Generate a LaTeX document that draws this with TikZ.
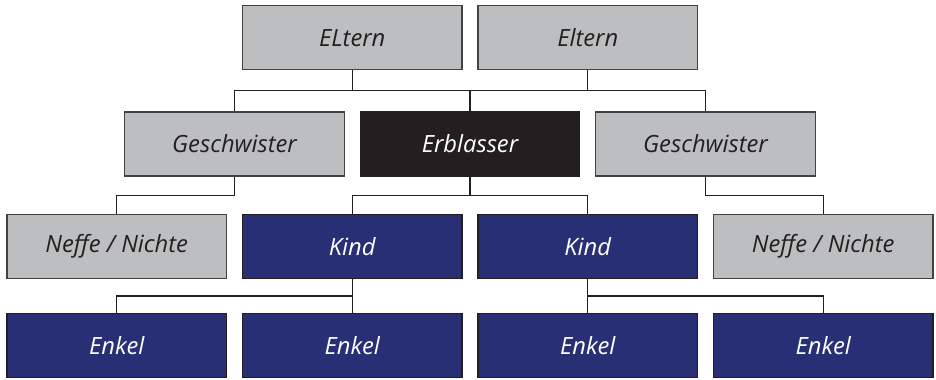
\documentclass[tikz,border=0pt]{standalone}
\usepackage{fontspec}
\setmainfont{Open Sans}
\usepackage{tikz}
\usetikzlibrary{positioning,calc}
\definecolor{kgrey}{RGB}{188,190,192}
\definecolor{kblack}{RGB}{35,31,32}
\definecolor{knavy}{RGB}{41,47,116}
\tikzstyle{block} = [draw=kblack!85, line width=0.75pt, fill=kgrey, rectangle, minimum height=1.28cm, minimum width=4.39cm, inner sep=0pt, font=\fontsize{13.5}{16}\selectfont\itshape, text=kblack]
\tikzstyle{blockdead} = [block, fill=kblack, draw=kblack, text=white]
\tikzstyle{blockdesc} = [block, fill=knavy, draw=kblack, text=white]
\tikzstyle{link} = [draw=kblack, line width=0.6pt]

\begin{document}
\begin{tikzpicture}[node distance=4.71cm]
		\useasboundingbox (-9.4,2.88) rectangle (9.32,-4.7);
		% second row
		\node (erb) [blockdead] {Erblasser};
		\node (gl) [block, left of=erb] {Geschwister};
		\node (gr) [block, right of=erb] {Geschwister};
		% parents
		\node (el1) [block, above of=erb, node distance=2.124cm, xshift=-2.355cm] {ELtern};
		\node (el2) [block, right of=el1] {Eltern};
		% children row
		\node (kl) [blockdesc, below of=erb, node distance=2.044cm, xshift=-2.355cm] {Kind};
		\node (kr) [blockdesc, right of=kl] {Kind};
		\node (nl) [block, left of=kl] {Neffe / Nichte};
		\node (nr) [block, right of=kr] {Neffe / Nichte};
		% grandchildren
		\node (e1) [blockdesc, below of=nl, node distance=1.992cm] {Enkel};
		\node (e2) [blockdesc, below of=kl, node distance=1.992cm] {Enkel};
		\node (e3) [blockdesc, below of=kr, node distance=1.992cm] {Enkel};
		\node (e4) [blockdesc, below of=nr, node distance=1.992cm] {Enkel};

		\coordinate (bus1) at ($(el1.south)!0.5!(erb.north)$);
		\coordinate (bus2) at ($(erb.south)!0.5!(kl.north)$);
		\coordinate (bus3) at ($(kl.south)!0.5!(e2.north)$);

		\draw [link] (gl.north) |- (bus1) -| (gr.north);
		\draw [link] (el1.south) -- (el1.south |- bus1);
		\draw [link] (el2.south) -- (el2.south |- bus1);
		\draw [link] (erb.north) -- (erb.north |- bus1);

		\draw [link] (gl.south) -- (gl.south |- bus2) -| (nl.north);
		\draw [link] (kl.north) |- (bus2) -| (kr.north);
		\draw [link] (erb.south) -- (erb.south |- bus2);
		\draw [link] (gr.south) -- (gr.south |- bus2) -| (nr.north);

		\draw [link] (kl.south) -- (e2.north);
		\draw [link] (kl.south |- bus3) -| (e1.north);
		\draw [link] (kr.south) -- (e3.north);
		\draw [link] (kr.south |- bus3) -| (e4.north);
	\end{tikzpicture}
\end{document}
